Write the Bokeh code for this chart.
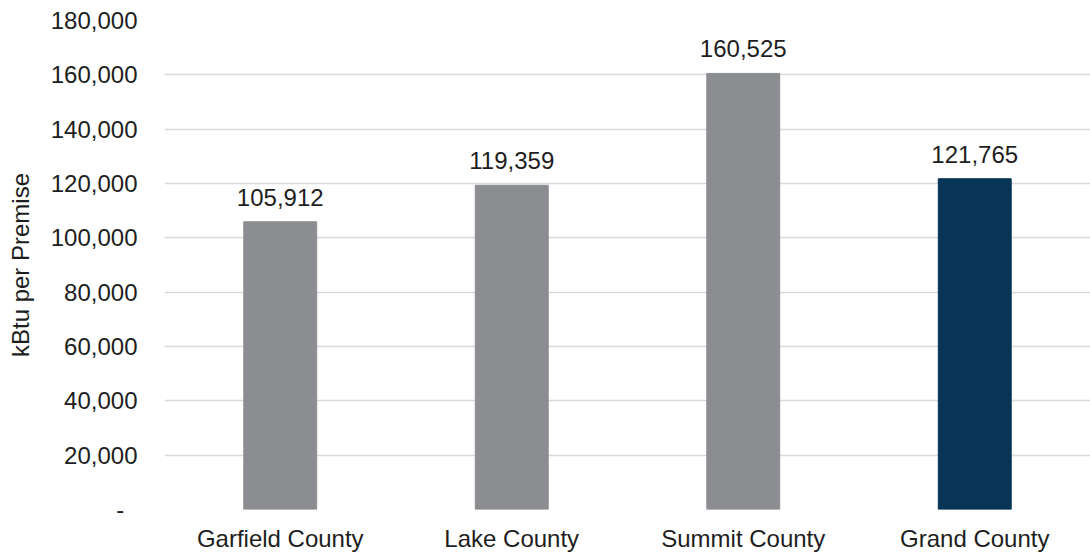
from bokeh.plotting import figure
from bokeh.models import (ColumnDataSource, FactorRange, Range1d, FixedTicker,
                          NumeralTickFormatter, LabelSet)
from bokeh.core.properties import value
from bokeh.embed import file_html
from bokeh.resources import INLINE

# Energy use per premise by county
counties = ["Garfield County", "Lake County", "Summit County", "Grand County"]
kbtu_per_premise = [105912, 119359, 160525, 121765]
bar_colors = ["#8C8D90", "#8C8D90", "#8C8D90", "#083555"]
y_ticks = [0, 20000, 40000, 60000, 80000, 100000, 120000, 140000, 160000, 180000]

FONT = "Liberation Sans"
TEXT = "#1E1E1E"

source = ColumnDataSource(dict(
    county=counties,
    value=kbtu_per_premise,
    color=bar_colors,
    label=[f"{v:,}" for v in kbtu_per_premise],
))

p = figure(
    x_range=FactorRange(factors=counties, start=0, end=3.98),
    y_range=Range1d(0, 180000),
    width=1090, height=555,
    min_border_left=164, min_border_right=0,
    min_border_top=20, min_border_bottom=46,
    output_backend="svg", toolbar_location=None,
)

p.vbar(x="county", top="value", width=0.315, color="color", source=source)

labels = LabelSet(x="county", y="value", text="label", source=source,
                  text_align="center", text_baseline="alphabetic", y_offset=16,
                  text_font=value(FONT), text_font_size=value("24px"),
                  text_color=TEXT)
p.add_layout(labels)

p.outline_line_color = None
p.background_fill_color = "white"
p.border_fill_color = "white"

# grid
p.xgrid.grid_line_color = None
p.ygrid.grid_line_color = "#D9D9D9"
p.ygrid.grid_line_width = 1.5

# y axis
p.yaxis.ticker = FixedTicker(ticks=y_ticks)
p.yaxis.formatter = NumeralTickFormatter(format="0,0")
p.yaxis.major_label_overrides = {0: "-\u00a0\u00a0"}
p.yaxis.axis_label = "kBtu per Premise"
p.yaxis.axis_label_text_font = FONT
p.yaxis.axis_label_text_font_size = "24px"
p.yaxis.axis_label_text_font_style = "normal"
p.yaxis.axis_label_text_color = TEXT
p.yaxis.axis_label_standoff = 14
p.yaxis.major_label_standoff = 27

# x axis
p.xaxis.major_label_standoff = 15

for ax in (p.xaxis, p.yaxis):
    ax.axis_line_color = None
    ax.major_tick_line_color = None
    ax.minor_tick_line_color = None
    ax.major_tick_out = 0
    ax.major_tick_in = 0
    ax.major_label_text_font = FONT
    ax.major_label_text_font_size = "24px"
    ax.major_label_text_color = TEXT

open("out.html", "w").write(file_html(p, INLINE))
